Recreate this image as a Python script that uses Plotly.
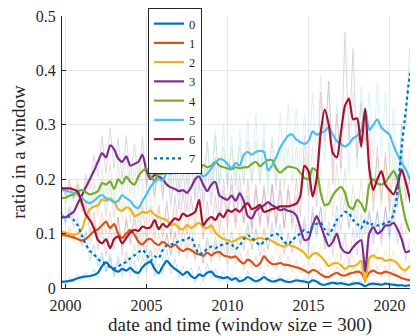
import plotly.graph_objects as go

years = [1999.75 + 0.25 * i for i in range(89)]

# smoothed ratios (thick lines)
s0 = [0.011,0.012,0.013,0.015,0.018,0.02,0.021,0.022,0.024,0.028,0.04,0.047,0.04,0.033,0.03,0.035,0.032,0.037,0.03,0.028,0.038,0.045,0.048,0.035,0.027,0.04,0.05,0.042,0.035,0.03,0.024,0.03,0.022,0.018,0.025,0.022,0.028,0.03,0.022,0.02,0.018,0.02,0.015,0.018,0.012,0.015,0.02,0.016,0.012,0.015,0.02,0.015,0.012,0.013,0.016,0.013,0.011,0.012,0.014,0.013,0.012,0.01,0.014,0.012,0.007,0.006,0.008,0.01,0.008,0.009,0.007,0.006,0.008,0.009,0.007,0.003,0.007,0.008,0.007,0.006,0.008,0.007,0.006,0.005,0.005,0.004,0.005,0.005,0.005]
s1 = [0.097,0.097,0.095,0.093,0.09,0.087,0.09,0.097,0.104,0.108,0.115,0.122,0.11,0.118,0.1,0.092,0.1,0.107,0.098,0.085,0.08,0.088,0.09,0.083,0.079,0.085,0.08,0.075,0.08,0.073,0.068,0.072,0.07,0.064,0.062,0.059,0.065,0.06,0.065,0.066,0.06,0.058,0.056,0.058,0.05,0.045,0.052,0.048,0.04,0.045,0.058,0.05,0.044,0.044,0.046,0.043,0.042,0.04,0.038,0.036,0.032,0.028,0.033,0.031,0.025,0.021,0.02,0.025,0.028,0.024,0.023,0.026,0.028,0.03,0.028,0.016,0.028,0.032,0.028,0.027,0.03,0.028,0.025,0.022,0.018,0.016,0.014,0.013,0.013]
s2 = [0.103,0.102,0.099,0.098,0.1,0.108,0.13,0.145,0.15,0.152,0.163,0.16,0.165,0.158,0.145,0.142,0.148,0.145,0.132,0.135,0.14,0.138,0.142,0.135,0.13,0.128,0.125,0.115,0.118,0.11,0.108,0.116,0.11,0.115,0.12,0.112,0.11,0.115,0.102,0.095,0.09,0.088,0.085,0.088,0.092,0.094,0.09,0.088,0.09,0.092,0.09,0.09,0.086,0.082,0.078,0.076,0.079,0.077,0.074,0.07,0.064,0.055,0.062,0.064,0.058,0.05,0.04,0.045,0.046,0.042,0.035,0.04,0.04,0.043,0.05,0.01,0.055,0.06,0.055,0.055,0.05,0.052,0.05,0.045,0.035,0.033,0.04,0.045,0.046]
s3 = [0.13,0.13,0.135,0.14,0.155,0.17,0.185,0.2,0.215,0.232,0.248,0.24,0.262,0.255,0.238,0.232,0.242,0.225,0.228,0.232,0.245,0.215,0.2,0.208,0.205,0.2,0.19,0.185,0.182,0.178,0.18,0.175,0.185,0.2,0.205,0.19,0.178,0.19,0.195,0.17,0.165,0.162,0.17,0.16,0.174,0.16,0.132,0.128,0.142,0.148,0.152,0.158,0.152,0.148,0.143,0.145,0.142,0.14,0.133,0.11,0.088,0.09,0.115,0.132,0.115,0.094,0.077,0.085,0.1,0.075,0.066,0.065,0.075,0.083,0.088,0.03,0.1,0.112,0.1,0.105,0.115,0.115,0.12,0.108,0.09,0.066,0.068,0.075,0.078]
s4 = [0.165,0.166,0.17,0.172,0.178,0.18,0.176,0.172,0.174,0.178,0.193,0.19,0.196,0.182,0.2,0.192,0.205,0.195,0.19,0.205,0.215,0.22,0.205,0.198,0.21,0.21,0.23,0.225,0.218,0.216,0.225,0.228,0.222,0.225,0.218,0.226,0.222,0.225,0.232,0.225,0.222,0.22,0.218,0.222,0.22,0.222,0.222,0.228,0.232,0.224,0.23,0.235,0.235,0.22,0.212,0.218,0.223,0.222,0.22,0.212,0.202,0.2,0.22,0.215,0.175,0.152,0.155,0.17,0.18,0.186,0.175,0.15,0.145,0.162,0.155,0.14,0.19,0.2,0.192,0.19,0.195,0.205,0.215,0.2,0.16,0.125,0.105,0.1,0.098]
s5 = [0.18,0.179,0.177,0.175,0.172,0.166,0.159,0.156,0.16,0.167,0.171,0.165,0.162,0.158,0.16,0.171,0.165,0.16,0.15,0.147,0.16,0.172,0.186,0.195,0.2,0.198,0.212,0.21,0.215,0.22,0.215,0.218,0.22,0.223,0.215,0.205,0.21,0.22,0.23,0.237,0.235,0.228,0.22,0.23,0.225,0.245,0.25,0.245,0.25,0.252,0.25,0.216,0.225,0.24,0.258,0.27,0.28,0.282,0.273,0.268,0.265,0.27,0.288,0.282,0.285,0.288,0.296,0.282,0.27,0.265,0.26,0.265,0.275,0.28,0.29,0.33,0.29,0.3,0.31,0.295,0.288,0.282,0.262,0.245,0.23,0.218,0.2,0.16,0.135]
s6 = [0.183,0.183,0.183,0.181,0.177,0.158,0.135,0.125,0.11,0.088,0.082,0.09,0.073,0.09,0.095,0.082,0.092,0.102,0.107,0.105,0.113,0.11,0.112,0.125,0.108,0.118,0.112,0.12,0.128,0.125,0.137,0.132,0.135,0.14,0.162,0.115,0.125,0.131,0.125,0.137,0.13,0.143,0.14,0.145,0.14,0.15,0.156,0.145,0.148,0.153,0.14,0.142,0.145,0.147,0.15,0.15,0.15,0.152,0.155,0.17,0.225,0.215,0.168,0.2,0.285,0.328,0.3,0.248,0.24,0.285,0.335,0.348,0.31,0.312,0.26,0.33,0.22,0.18,0.2,0.215,0.19,0.18,0.172,0.19,0.218,0.195,0.165,0.135,0.12]
s7 = [0.13,0.132,0.13,0.125,0.115,0.097,0.08,0.068,0.062,0.053,0.048,0.045,0.038,0.036,0.04,0.044,0.048,0.055,0.06,0.066,0.07,0.062,0.05,0.058,0.055,0.07,0.078,0.08,0.082,0.086,0.088,0.09,0.094,0.075,0.062,0.065,0.072,0.076,0.073,0.078,0.08,0.082,0.08,0.072,0.078,0.09,0.097,0.092,0.085,0.079,0.085,0.092,0.097,0.1,0.095,0.085,0.08,0.088,0.095,0.1,0.107,0.102,0.112,0.118,0.12,0.108,0.098,0.11,0.125,0.132,0.14,0.137,0.125,0.118,0.11,0.125,0.115,0.118,0.115,0.116,0.12,0.122,0.135,0.18,0.258,0.325,0.39,0.42,0.428]

# raw ratios (faint lines)
f0 = [0.016,0.008,0.02,0.01,0.026,0.013,0.03,0.014,0.035,0.018,0.058,0.03,0.062,0.02,0.05,0.02,0.055,0.022,0.05,0.017,0.06,0.028,0.07,0.02,0.045,0.025,0.07,0.026,0.055,0.017,0.04,0.017,0.038,0.01,0.04,0.012,0.045,0.018,0.036,0.011,0.03,0.011,0.027,0.009,0.022,0.008,0.032,0.008,0.022,0.008,0.03,0.008,0.02,0.007,0.025,0.007,0.019,0.006,0.022,0.007,0.02,0.005,0.022,0.006,0.013,0.003,0.014,0.005,0.014,0.004,0.013,0.003,0.014,0.004,0.013,0.002,0.012,0.004,0.013,0.003,0.013,0.003,0.011,0.002,0.009,0.002,0.009,0.002,0.008]
f1 = [0.105,0.09,0.11,0.085,0.105,0.075,0.105,0.08,0.125,0.09,0.14,0.1,0.14,0.09,0.13,0.075,0.125,0.085,0.125,0.07,0.105,0.068,0.115,0.065,0.1,0.068,0.1,0.06,0.1,0.058,0.09,0.055,0.09,0.05,0.082,0.045,0.085,0.046,0.085,0.05,0.078,0.045,0.075,0.044,0.068,0.034,0.07,0.036,0.058,0.033,0.075,0.038,0.06,0.033,0.062,0.032,0.058,0.03,0.052,0.026,0.045,0.02,0.046,0.022,0.036,0.014,0.03,0.017,0.04,0.016,0.034,0.018,0.04,0.021,0.04,0.01,0.04,0.023,0.04,0.019,0.042,0.02,0.036,0.015,0.027,0.011,0.021,0.009,0.016]
f2 = [0.11,0.095,0.115,0.09,0.12,0.095,0.155,0.125,0.175,0.13,0.19,0.135,0.19,0.13,0.17,0.12,0.175,0.12,0.16,0.11,0.165,0.115,0.17,0.11,0.155,0.105,0.15,0.095,0.145,0.09,0.135,0.095,0.135,0.095,0.145,0.09,0.135,0.095,0.125,0.075,0.115,0.07,0.11,0.07,0.115,0.075,0.115,0.07,0.115,0.075,0.115,0.07,0.11,0.065,0.1,0.06,0.1,0.06,0.095,0.055,0.085,0.04,0.08,0.048,0.078,0.035,0.06,0.03,0.065,0.028,0.055,0.025,0.06,0.03,0.068,0.008,0.075,0.045,0.075,0.04,0.07,0.038,0.07,0.032,0.05,0.022,0.055,0.032,0.055]
f3 = [0.14,0.12,0.15,0.125,0.175,0.15,0.21,0.18,0.245,0.205,0.28,0.21,0.295,0.22,0.275,0.2,0.28,0.195,0.265,0.2,0.28,0.185,0.24,0.17,0.24,0.165,0.23,0.15,0.22,0.145,0.22,0.14,0.23,0.16,0.25,0.15,0.22,0.15,0.24,0.13,0.2,0.13,0.21,0.12,0.21,0.12,0.17,0.1,0.18,0.11,0.19,0.12,0.19,0.11,0.18,0.11,0.18,0.11,0.17,0.08,0.12,0.06,0.15,0.1,0.15,0.07,0.11,0.06,0.13,0.05,0.1,0.04,0.11,0.06,0.12,0.02,0.14,0.08,0.14,0.08,0.15,0.09,0.15,0.08,0.12,0.05,0.09,0.06,0.09]
f4 = [0.175,0.155,0.19,0.16,0.2,0.16,0.2,0.15,0.2,0.16,0.22,0.17,0.23,0.16,0.23,0.17,0.24,0.17,0.22,0.18,0.25,0.19,0.24,0.17,0.25,0.18,0.27,0.19,0.26,0.18,0.28,0.19,0.27,0.19,0.29,0.19,0.27,0.19,0.28,0.19,0.26,0.19,0.26,0.19,0.26,0.19,0.27,0.19,0.27,0.19,0.27,0.2,0.27,0.18,0.25,0.18,0.26,0.19,0.26,0.18,0.24,0.17,0.26,0.17,0.22,0.12,0.2,0.13,0.23,0.14,0.22,0.11,0.19,0.12,0.2,0.11,0.23,0.16,0.24,0.15,0.24,0.16,0.26,0.16,0.2,0.1,0.13,0.08,0.11]
f5 = [0.19,0.17,0.195,0.16,0.19,0.15,0.18,0.13,0.19,0.14,0.2,0.13,0.2,0.13,0.2,0.14,0.21,0.12,0.19,0.12,0.2,0.14,0.23,0.15,0.25,0.16,0.27,0.17,0.28,0.17,0.27,0.17,0.3,0.17,0.27,0.16,0.27,0.17,0.29,0.18,0.3,0.18,0.28,0.18,0.29,0.19,0.31,0.2,0.32,0.2,0.3,0.17,0.28,0.19,0.32,0.22,0.34,0.23,0.33,0.22,0.32,0.22,0.36,0.23,0.39,0.23,0.38,0.22,0.34,0.21,0.33,0.21,0.36,0.22,0.37,0.27,0.36,0.24,0.38,0.24,0.36,0.22,0.33,0.19,0.3,0.17,0.26,0.12,0.17]
f6 = [0.19,0.17,0.2,0.165,0.19,0.14,0.16,0.1,0.14,0.07,0.11,0.06,0.11,0.07,0.13,0.06,0.13,0.08,0.14,0.08,0.15,0.085,0.15,0.09,0.15,0.09,0.16,0.09,0.17,0.1,0.18,0.1,0.17,0.11,0.2,0.09,0.16,0.1,0.17,0.1,0.18,0.11,0.19,0.11,0.18,0.12,0.2,0.11,0.19,0.12,0.18,0.11,0.19,0.12,0.2,0.11,0.19,0.12,0.2,0.13,0.28,0.17,0.22,0.15,0.36,0.27,0.38,0.19,0.32,0.22,0.47,0.27,0.44,0.24,0.34,0.27,0.3,0.14,0.26,0.16,0.25,0.14,0.22,0.15,0.26,0.16,0.2,0.11,0.14]
f7 = [0.14,0.12,0.145,0.11,0.13,0.08,0.1,0.05,0.08,0.04,0.065,0.03,0.055,0.024,0.058,0.03,0.068,0.038,0.08,0.048,0.092,0.045,0.07,0.04,0.076,0.05,0.1,0.06,0.105,0.064,0.11,0.068,0.118,0.055,0.082,0.046,0.094,0.055,0.095,0.057,0.102,0.06,0.102,0.052,0.1,0.068,0.12,0.07,0.108,0.058,0.108,0.07,0.12,0.077,0.118,0.063,0.102,0.066,0.118,0.077,0.132,0.078,0.138,0.092,0.148,0.083,0.122,0.085,0.152,0.105,0.168,0.11,0.152,0.092,0.136,0.1,0.142,0.092,0.142,0.09,0.148,0.095,0.165,0.15,0.3,0.29,0.44,0.39,0.47]

series = [s0, s1, s2, s3, s4, s5, s6, s7]
raw = [f0, f1, f2, f3, f4, f5, f6, f7]
names = ["0", "1", "2", "3", "4", "5", "6", "7"]
colors = ["#0072BD", "#D95319", "#EDB120", "#7E2F8E", "#77AC30", "#4DBEEE", "#A2142F", "#0072BD"]
dashes = ["solid"] * 7 + ["dot"]

yticks = [0, 0.1, 0.2, 0.3, 0.4, 0.5]
yticklabels = ["0", "0.1", "0.2", "0.3", "0.4", "0.5"]
xticks = [2000, 2005, 2010, 2015, 2020]
xticklabels = ["2000", "2005", "2010", "2015", "2020"]

FONT = "Liberation Serif"
fig = go.Figure()
for r, c in zip(raw, colors):
    fig.add_trace(go.Scatter(x=years, y=r, mode="lines", showlegend=False, hoverinfo="skip",
                             opacity=0.2, line=dict(color=c, width=1)))
for s, n, c, d in zip(series, names, colors, dashes):
    fig.add_trace(go.Scatter(x=years, y=s, name=n, mode="lines",
                             line=dict(color=c, width=2.2, dash=d, shape="spline", smoothing=0.6)))

fig.update_layout(
    width=410, height=328,
    margin=dict(l=54, r=0, t=8, b=48, autoexpand=False),
    paper_bgcolor="white", plot_bgcolor="white",
    font=dict(family=FONT, size=16, color="#262626"),
    showlegend=True,
    legend=dict(x=0.2416, y=1.0294, xanchor="left", yanchor="top",
                bgcolor="white", bordercolor="#262626", borderwidth=1,
                font=dict(family=FONT, size=12.5, color="#262626"),
                tracegroupgap=0, itemwidth=30, maxheight=300),
    xaxis=dict(range=[1999.78, 2021.76], tickvals=xticks, ticktext=xticklabels,
               showgrid=True, gridcolor="#e6e6e6", gridwidth=1,
               showline=True, linecolor="#262626", linewidth=1,
               ticks="inside", ticklen=4, tickcolor="#262626",
               zeroline=False, automargin=False, ticklabeloverflow="allow",
               ticklabelstandoff=3,
               title=dict(text="date and time (window size = 300)",
                          font=dict(family=FONT, size=19), standoff=4)),
    yaxis=dict(range=[0, 0.5], tickvals=yticks, ticktext=yticklabels,
               showgrid=True, gridcolor="#e6e6e6", gridwidth=1,
               showline=True, linecolor="#262626", linewidth=1,
               ticks="inside", ticklen=4, tickcolor="#262626",
               zeroline=False, automargin=False, ticklabeloverflow="allow",
               ticklabelstandoff=2,
               title=dict(text="ratio in a window",
                          font=dict(family=FONT, size=19), standoff=5)),
)

fig.write_html("out.html")
